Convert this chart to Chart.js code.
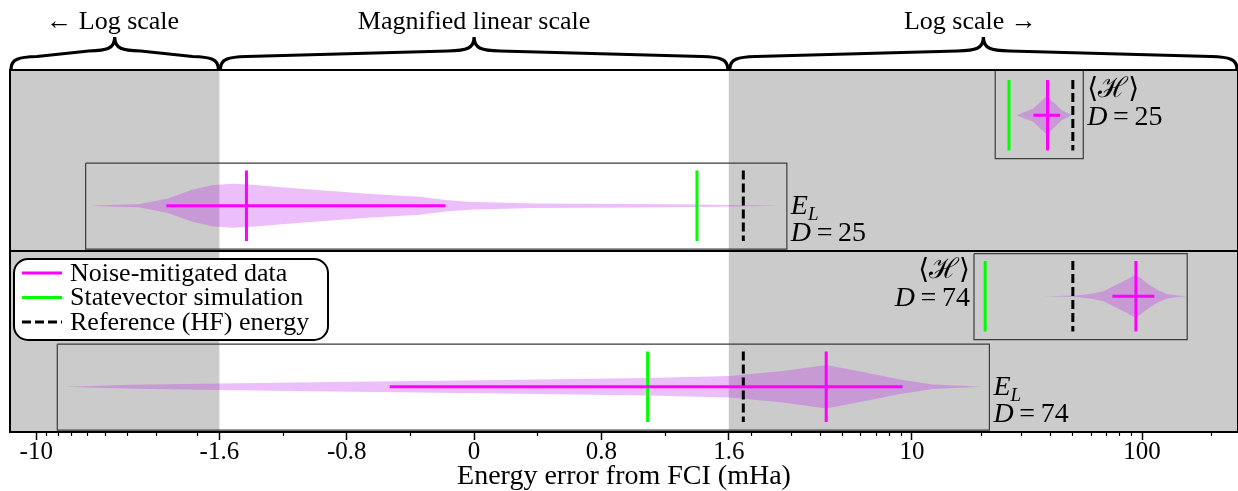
<!DOCTYPE html>
<html>
<head>
<meta charset="utf-8">
<script src="https://cdn.jsdelivr.net/npm/chart.js@4.4.0/dist/chart.umd.min.js"></script>
<style>
html, body { margin: 0; padding: 0; background: #fff; }
</style>
</head>
<body>
<canvas id="myChart" width="1238" height="491"></canvas>
<script>
// rows, top to bottom
const rowQuantity = ['H', 'EL', 'H', 'EL'];
const rowDepth = [25, 25, 74, 74];

// energy errors (mHa)
const meanError = [38.8, -1.43, 94, 4.24];
const errLow = [33.7, -2.72, 74.3, -0.53];
const errHigh = [44.0, -0.18, 113, 9.1];
const statevectorError = [26.4, 1.40, 20.8, 1.09];
const hfError = [50, 1.85, 50, 1.85];
const boxLow = [23.0, -6.1, 18.6, -8.1];
const boxHigh = [55.5, 2.86, 157, 21.7];

// violin outlines: x positions and half widths (row units)
const violinX = [
	[28.5, 30.5, 33.7, 36.0, 37.4, 38.8, 40.2, 41.8, 44.7, 48.6, 49.3],
	[-5.8, -4.5, -3.6, -2.7, -2.1, -1.7, -1.51, -1.4, -1.09, -0.67, -0.34, -0.18, -0.04, 0.37, 1.0, 1.42, 2.67],
	[37.2, 52, 59.4, 67.9, 75, 82.9, 94, 104.8, 115.8, 128, 141.5, 156],
	[-7.5, -3.8, -1.6, -0.88, 0.17, 1.09, 1.62, 2.75, 4.25, 6.35, 8.87, 12.3, 20.1]
];
const violinHalf = [
	[0, 0.030, 0.074, 0.144, 0.182, 0.221, 0.166, 0.129, 0.055, 0.011, 0],
	[0, 0.010, 0.017, 0.077, 0.177, 0.229, 0.243, 0.232, 0.188, 0.133, 0.099, 0.063, 0.044, 0.025, 0.019, 0.014, 0],
	[0, 0.009, 0.025, 0.055, 0.11, 0.166, 0.24, 0.147, 0.074, 0.025, 0.008, 0],
	[0, 0.022, 0.036, 0.052, 0.074, 0.096, 0.118, 0.173, 0.24, 0.155, 0.081, 0.025, 0]
];

const majorTicks = [-10, -1.6, -0.8, 0, 0.8, 1.6, 10, 100];
const majorTickLabels = ['-10', '-1.6', '-0.8', '0', '0.8', '1.6', '10', '100'];
const minorTicks = [-9, -8, -7, -6, -5, -4, -3, -2, -1.2, -0.4, 0.4, 1.2,
	2, 3, 4, 5, 6, 7, 8, 9, 20, 30, 40, 50, 60, 70, 80, 90, 200];

const seriesNames = ['Noise-mitigated data', 'Statevector simulation', 'Reference (HF) energy'];
const regionNames = ['\u2190 Log scale', 'Magnified linear scale', 'Log scale \u2192'];

const X_MIN = -13, X_MAX = 261;
const SERIF = "'Liberation Serif', 'DejaVu Serif', serif";
const MAGENTA = '#ff00ff', GREEN = '#00ff00', VIOLIN = 'rgba(191, 40, 239, 0.3)';
const LINE_HALF = 0.39;

// linear between -1.6 and 1.6, log outside
const LIN_LIMIT = 1.6;
const DECADE = 1.4457;
function toLinear(v) {
	const a = Math.abs(v);
	return a <= LIN_LIMIT ? v : Math.sign(v) * (LIN_LIMIT + DECADE * Math.log10(a / LIN_LIMIT));
}
function fromLinear(t) {
	const a = Math.abs(t);
	return a <= LIN_LIMIT ? t : Math.sign(t) * LIN_LIMIT * Math.pow(10, (a - LIN_LIMIT) / DECADE);
}

class MagnifiedScale extends Chart.LinearScale {
	static id = 'magnified';
	static defaults = Chart.LinearScale.defaults;
	buildTicks() {
		this.start = this.min;
		this.end = this.max;
		const vals = this.id === 'x' ? majorTicks : minorTicks;
		return vals.map(value => ({ value }));
	}
	configure() {
		super.configure();
		this._t0 = toLinear(this.min);
		this._t1 = toLinear(this.max);
	}
	getPixelForValue(value) {
		return this.getPixelForDecimal((toLinear(value) - this._t0) / (this._t1 - this._t0));
	}
	getValueForPixel(pixel) {
		return fromLinear(this._t0 + this.getDecimalForPixel(pixel) * (this._t1 - this._t0));
	}
}
Chart.register(MagnifiedScale);

const datasets = [];
for (let r = 0; r < rowDepth.length; r++) {
	const c = r + 0.5;
	const top = r === 0 ? c - 0.5 : c - 0.47;
	datasets.push({
		data: [{x: boxLow[r], y: top}, {x: boxHigh[r], y: top}, {x: boxHigh[r], y: c + 0.48},
			{x: boxLow[r], y: c + 0.48}, {x: boxLow[r], y: top}],
		borderColor: '#3c3c3c', borderWidth: 1.2, fill: false, order: 5
	});
	datasets.push({
		data: violinX[r].map((x, i) => ({x: x, y: c - violinHalf[r][i]})),
		borderColor: 'rgba(0,0,0,0)', borderWidth: 0, fill: false, order: 4
	});
	datasets.push({
		data: violinX[r].map((x, i) => ({x: x, y: c + violinHalf[r][i]})),
		borderColor: 'rgba(0,0,0,0)', borderWidth: 0, fill: '-1', backgroundColor: VIOLIN, order: 4
	});
	datasets.push({
		data: [{x: hfError[r], y: c - LINE_HALF}, {x: hfError[r], y: c + LINE_HALF}],
		borderColor: '#000', borderWidth: 3, borderDash: [9, 4], fill: false, order: 3
	});
	datasets.push({
		data: [{x: statevectorError[r], y: c - LINE_HALF}, {x: statevectorError[r], y: c + LINE_HALF}],
		borderColor: GREEN, borderWidth: 3, fill: false, order: 2
	});
	datasets.push({
		data: [{x: errLow[r], y: c}, {x: errHigh[r], y: c}],
		borderColor: MAGENTA, borderWidth: 3, fill: false, order: 1
	});
	datasets.push({
		data: [{x: meanError[r], y: c - LINE_HALF}, {x: meanError[r], y: c + LINE_HALF}],
		borderColor: MAGENTA, borderWidth: 3, fill: false, order: 1
	});
}

function drawRuns(ctx, runs, x, y, align) {
	let w = 0;
	runs.forEach(r => { ctx.font = r[1]; w += ctx.measureText(r[0]).width; });
	let cx = align === 'right' ? x - w : x;
	runs.forEach(r => {
		ctx.font = r[1];
		ctx.fillText(r[0], cx, y + (r[2] || 0));
		cx += ctx.measureText(r[0]).width;
	});
}

function drawBrace(ctx, x0, x1) {
	const xc = (x0 + x1) / 2, r = Math.min(26, (x1 - x0) / 8);
	const yb = 69, ya = 57, yc = 51, yt = 37;
	ctx.beginPath();
	ctx.moveTo(x0, yb);
	ctx.bezierCurveTo(x0, ya + 2, x0 + r * 0.3, ya, x0 + r, ya - 0.5);
	ctx.lineTo(xc - r, yc);
	ctx.bezierCurveTo(xc - r * 0.3, yc - 0.5, xc, yc - 2, xc, yt);
	ctx.bezierCurveTo(xc, yc - 2, xc + r * 0.3, yc - 0.5, xc + r, yc);
	ctx.lineTo(x1 - r, ya - 0.5);
	ctx.bezierCurveTo(x1 - r * 0.3, ya, x1, ya + 2, x1, yb);
	ctx.stroke();
}

const decorPlugin = {
	id: 'decor',
	beforeDatasetsDraw(chart) {
		const {ctx, chartArea: a, scales: {x}} = chart;
		const xl = x.getPixelForValue(-LIN_LIMIT), xr = x.getPixelForValue(LIN_LIMIT);
		ctx.save();
		ctx.fillStyle = '#cbcbcb';
		ctx.fillRect(a.left, a.top, xl - a.left, a.bottom - a.top);
		ctx.fillRect(xr, a.top, a.right - xr, a.bottom - a.top);
		ctx.restore();
	},
	afterDraw(chart) {
		const {ctx, chartArea: a, scales: {x, y}} = chart;
		const xl = x.getPixelForValue(-LIN_LIMIT), xr = x.getPixelForValue(LIN_LIMIT);
		ctx.save();
		// frame and divider between D=25 and D=74
		ctx.strokeStyle = '#000';
		ctx.lineWidth = 2;
		ctx.strokeRect(a.left, a.top, a.right - a.left, a.bottom - a.top);
		ctx.beginPath();
		ctx.moveTo(a.left, y.getPixelForValue(2));
		ctx.lineTo(a.right, y.getPixelForValue(2));
		ctx.stroke();

		// braces over the three regions
		ctx.lineWidth = 3.2;
		ctx.lineCap = 'round';
		const edges = [a.left, xl, xr, a.right];
		const shifts = [-2, 0, -13];
		ctx.fillStyle = '#000';
		ctx.textAlign = 'center';
		ctx.textBaseline = 'alphabetic';
		for (let i = 0; i < 3; i++) {
			drawBrace(ctx, edges[i] + 1, edges[i + 1] - 1);
			ctx.font = '26px ' + SERIF;
			ctx.fillText(regionNames[i], (edges[i] + edges[i + 1]) / 2 + shifts[i], 29);
		}

		// row labels
		ctx.textAlign = 'left';
		const big = '28px ' + SERIF, bigIt = 'italic 28px ' + SERIF, subIt = 'italic 19px ' + SERIF;
		for (let r = 0; r < rowDepth.length; r++) {
			const cy = y.getPixelForValue(r + 0.5);
			const left = r === 2;
			const bx = left ? x.getPixelForValue(boxLow[r]) - 4 : x.getPixelForValue(boxHigh[r]) + 4;
			const isH = rowQuantity[r] === 'H';
			const q = isH ? [['\u27E8\u210B\u27E9', big]] : [['E', bigIt], ['L', subIt, 6]];
			drawRuns(ctx, q, bx, cy + (isH ? -18 : 8), left ? 'right' : 'left');
			drawRuns(ctx, [['D', bigIt], ['\u2009=\u2009' + rowDepth[r], big]], bx, cy + (isH ? 10 : 35), left ? 'right' : 'left');
		}

		// legend
		const lx = a.left + 4, ly = y.getPixelForValue(2) + 8;
		ctx.beginPath();
		ctx.roundRect(lx, ly, 314, 81, 14);
		ctx.fillStyle = '#fff';
		ctx.fill();
		ctx.lineWidth = 2;
		ctx.stroke();
		const colors = [MAGENTA, GREEN, '#000'];
		ctx.font = '26px ' + SERIF;
		ctx.textBaseline = 'middle';
		ctx.lineCap = 'butt';
		for (let i = 0; i < 3; i++) {
			const yy = ly + 14 + i * 24.5;
			ctx.beginPath();
			ctx.strokeStyle = colors[i];
			ctx.lineWidth = 3;
			ctx.setLineDash(i === 2 ? [9, 4] : []);
			ctx.moveTo(lx + 8, yy);
			ctx.lineTo(lx + 48, yy);
			ctx.stroke();
			ctx.setLineDash([]);
			ctx.fillStyle = '#000';
			ctx.fillText(seriesNames[i], lx + 56, yy + 1);
		}
		ctx.restore();
	}
};

var ctx = document.getElementById('myChart').getContext('2d');
var chart = new Chart(ctx, {
	type: 'line',
	data: { datasets: datasets },
	plugins: [decorPlugin],
	options: {
		responsive: false,
		animation: false,
		events: [],
		layout: { padding: { top: 70, left: 10, right: 0, bottom: 0 } },
		elements: { point: { radius: 0 }, line: { tension: 0 } },
		plugins: { legend: { display: false }, tooltip: { enabled: false } },
		scales: {
			x: {
				type: 'magnified', min: X_MIN, max: X_MAX, position: 'bottom',
				afterFit: s => { s.height = 59; },
				grid: { drawOnChartArea: false, tickLength: 8, tickWidth: 1.5, tickColor: '#000' },
				border: { display: true, color: '#000', width: 2 },
				ticks: {
					autoSkip: false, maxRotation: 0, padding: 0, color: '#000',
					font: { family: SERIF, size: 25, lineHeight: 1 },
					callback: (v, i) => majorTickLabels[i]
				},
				title: {
					display: true, text: 'Energy error from FCI (mHa)', color: '#000',
					font: { family: SERIF, size: 28, lineHeight: 1 }, padding: 0
				}
			},
			xMinor: {
				type: 'magnified', axis: 'x', min: X_MIN, max: X_MAX, position: { y: 4 },
				grid: { drawOnChartArea: false, tickLength: 4, tickWidth: 1.2, tickColor: '#000' },
				border: { display: false },
				ticks: { display: false, autoSkip: false }
			},
			y: { type: 'linear', min: 0, max: 4, reverse: true, display: false }
		}
	}
});
</script>
</body>
</html>
